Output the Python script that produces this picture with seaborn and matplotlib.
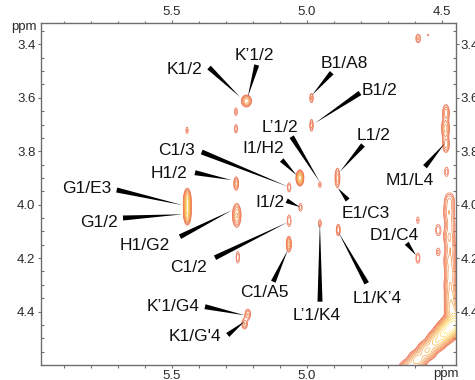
import numpy as np
import matplotlib
matplotlib.use("Agg")
import matplotlib.pyplot as plt
import seaborn as sns
from matplotlib.ticker import MultipleLocator, FixedLocator

# ---------------- data: cross peaks (ppm) ----------------
peak_x = [5.224, 5.263, 5.263, 5.444, 4.983, 4.983, 5.026, 5.262, 5.066, 4.952,
          4.887, 5.443, 5.443, 5.260, 5.024, 5.066, 5.067, 4.952, 4.884, 4.589,
          4.589, 5.256, 5.219, 5.231, 4.588, 4.551, 4.485, 4.487, 4.485, 4.483,
          4.514, 4.514]
peak_y = [3.612, 3.652, 3.716, 3.722, 3.601, 3.703, 3.900, 3.921, 3.935, 3.925,
          3.900, 3.985, 4.030, 4.040, 4.010, 4.060, 4.148, 4.070, 4.095, 4.058,
          4.200, 4.197, 4.410, 4.446, 3.378, 3.365, 3.655, 3.715, 3.775, 3.877,
          4.095, 4.177]
peak_wx = [0.010, 0.0055, 0.0055, 0.005, 0.0055, 0.0052, 0.0068, 0.0062, 0.006, 0.0055,
           0.0062, 0.0065, 0.0065, 0.009, 0.0065, 0.0066, 0.0058, 0.0057, 0.0056, 0.0055,
           0.0068, 0.006, 0.0075, 0.0075, 0.0075, 0.0035, 0.0085, 0.009, 0.0085, 0.0075,
           0.0085, 0.0075]
peak_wy = [0.012, 0.015, 0.016, 0.014, 0.015, 0.018, 0.014, 0.017, 0.016, 0.013,
           0.025, 0.021, 0.021, 0.025, 0.015, 0.020, 0.018, 0.015, 0.016, 0.015,
           0.018, 0.020, 0.014, 0.014, 0.014, 0.0045, 0.020, 0.022, 0.020, 0.018,
           0.019, 0.016]
peak_h = [6, 1.6, 1.7, 1.45, 2.0, 2.2, 11, 3, 1.8, 1.45,
          3, 12, 12, 5, 1.6, 1.8, 4, 1.6, 2.5, 1.4,
          1.8, 1.8, 2.6, 2.6, 2.0, 1.3, 3, 4, 3, 1.6,
          1.8, 1.5]

# water streak (t1 noise) near 4.47 ppm
streak_x = [4.472, 4.474, 4.470, 4.473, 4.469, 4.472, 4.468, 4.470, 4.467, 4.465]
streak_y = [3.985, 4.030, 4.075, 4.120, 4.165, 4.210, 4.255, 4.300, 4.345, 4.390]
streak_h = [2.6, 3.0, 2.4, 3.2, 2.8, 3.4, 3.6, 4.0, 5.0, 7.0]

# diagonal
diag_x = [4.660, 4.625, 4.590, 4.555, 4.520, 4.490, 4.465, 4.440]
diag_y = [4.650, 4.615, 4.580, 4.545, 4.510, 4.480, 4.455, 4.430]
diag_h = [6, 7, 8, 9, 11, 18, 24, 14]

# assignments
label_names = ["K1/2", "K\u20191/2", "B1/A8", "B1/2", "L\u20191/2", "L1/2", "I1/H2",
               "M1/L4", "C1/3", "H1/2", "G1/E3", "G1/2", "H1/G2", "C1/2", "I1/2",
               "E1/C3", "D1/C4", "C1/A5", "L\u20191/K4", "L1/K\u20194",
               "K\u20191/G4", "K1/G'4"]
label_tip_x = [5.248, 5.219, 4.981, 4.970, 4.952, 4.878, 5.038, 4.489, 5.069, 5.279,
               5.459, 5.459, 5.278, 5.070, 5.026, 4.885, 4.596, 5.071, 4.952, 4.884,
               5.230, 5.230]
label_tip_y = [3.597, 3.597, 3.590, 3.695, 3.916, 3.877, 3.890, 3.770, 3.933, 3.908,
               4.002, 4.036, 4.021, 4.065, 4.009, 3.938, 4.189, 4.170, 4.066, 4.102,
               4.414, 4.436]

x_ticks = [5.5, 5.0, 4.5]
x_tick_labels = ["5.5", "5.0", "4.5"]
y_ticks = [3.4, 3.6, 3.8, 4.0, 4.2, 4.4]
y_tick_labels = ["3.4", "3.6", "3.8", "4.0", "4.2", "4.4"]

# ---------------- layout (pixels in the 475x380 image) ----------------
W, H = 475, 380
label_px = [184.5, 254.5, 344.3, 379.5, 280.0, 373.3, 263.3, 409.7, 176.7, 169.0,
            87.0, 98.7, 144.3, 188.3, 270.3, 366.2, 394.2, 264.2, 316.3, 377.5,
            173.0, 195.0]
label_py = [74.0, 60.0, 68.3, 95.0, 131.7, 140.0, 153.3, 185.0, 155.0, 178.3,
            193.0, 226.7, 250.0, 272.3, 206.7, 218.3, 240.0, 296.7, 320.0, 303.3,
            311.0, 341.0]
wedge_px = [209.0, 256.7, 331.7, 360.0, 291.7, 363.0, 281.7, 425.0, 201.7, 195.0,
            116.7, 123.0, 180.0, 215.0, 286.7, 347.7, 406.7, 273.3, 320.0, 366.7,
            205.0, 227.7]
wedge_py = [67.5, 65.0, 72.7, 93.0, 136.7, 145.0, 160.0, 166.7, 152.0, 172.7,
            190.0, 218.0, 236.7, 257.7, 200.7, 200.0, 243.3, 281.7, 301.7, 283.3,
            306.7, 335.0]

sns.set_style("ticks")
plt.rcParams["font.family"] = ["Liberation Sans", "DejaVu Sans"]

fig = plt.figure(figsize=(W / 100, H / 100), dpi=100)
ax_l, ax_r, ax_t, ax_b = 40.7, 455.7, 22.7, 365.0
ax = fig.add_axes([ax_l / W, 1 - ax_b / H, (ax_r - ax_l) / W, (ax_b - ax_t) / H])

# spectrum on a grid
gx = np.linspace(4.38, 6.02, 820)
gy = np.linspace(3.28, 4.68, 700)
X, Y = np.meshgrid(gx, gy)
Z = np.zeros_like(X)
for x0, y0, sx, sy, a in zip(peak_x, peak_y, peak_wx, peak_wy, peak_h):
    Z += a * np.exp(-((X - x0) ** 2 / (2 * sx ** 2) + (Y - y0) ** 2 / (2 * sy ** 2)))
for x0, y0, a in zip(streak_x, streak_y, streak_h):
    Z += a * np.exp(-((X - x0) ** 2 / (2 * 0.013 ** 2) + (Y - y0) ** 2 / (2 * 0.021 ** 2)))
for x0, y0, a in zip(diag_x, diag_y, diag_h):
    Z += a * np.exp(-((X - x0) ** 2 / (2 * 0.018 ** 2) + (Y - y0) ** 2 / (2 * 0.018 ** 2)))

nlev = 12
levels = 1.0 * 1.36 ** np.arange(nlev)
cmap = sns.blend_palette(["#ec6a4c", "#f0844e", "#f5a24a", "#fbcd48", "#fff27a"], as_cmap=True)
colors = [cmap(i / (nlev - 1)) for i in range(nlev)]
ax.contour(X, Y, Z, levels=levels, colors=colors, linewidths=0.5)

ax.set_xlim(5.986, 4.449)
ax.set_ylim(4.600, 3.319)

# axes styling
for s in ax.spines.values():
    s.set_color("#6e6e6e")
    s.set_linewidth(1.0)
    s.set_visible(True)
ax.xaxis.set_major_locator(FixedLocator(x_ticks))
ax.set_xticklabels(x_tick_labels)
ax.yaxis.set_major_locator(FixedLocator(y_ticks))
ax.set_yticklabels(y_tick_labels)
ax.xaxis.set_minor_locator(MultipleLocator(0.1))
ax.yaxis.set_minor_locator(MultipleLocator(0.05))
ax.tick_params(which="both", top=True, right=True, labeltop=True, labelright=True,
               labelbottom=True, labelleft=True, color="#6e6e6e", labelcolor="#2a2a2a",
               labelsize=9.5, width=0.8)
ax.tick_params(which="major", direction="out", length=2.2, pad=1.5)
ax.tick_params(axis="x", which="minor", direction="out", length=1.8)
ax.tick_params(axis="y", which="minor", direction="in", length=2.2)
# bottom label at 4.5 is replaced by "ppm"
ax.xaxis.get_major_ticks()[2].label1.set_visible(False)
ax.grid(False)

fig.text(446 / W, 1 - 376.5 / H, "ppm", ha="center", va="baseline", fontsize=9.5, color="#2a2a2a")
fig.text(23.8 / W, 1 - 30.3 / H, "ppm", ha="center", va="baseline", fontsize=9.5, color="#2a2a2a")

# assignment labels with wedge leaders
for name, tx, ty, lx, ly, wx, wy in zip(label_names, label_tip_x, label_tip_y,
                                        label_px, label_py, wedge_px, wedge_py):
    fig.text(lx / W, 1 - ly / H, name, ha="center", va="baseline", fontsize=12.5, color="#111111")
    ax.annotate("", xy=(tx, ty), xycoords="data",
                xytext=(wx / W, 1 - wy / H), textcoords="figure fraction",
                arrowprops=dict(arrowstyle="wedge,tail_width=0.36,shrink_factor=0.5",
                                fc="black", ec="black", lw=0, shrinkA=0, shrinkB=0,
                                mutation_scale=10))

fig.savefig("out.png", dpi=100)
